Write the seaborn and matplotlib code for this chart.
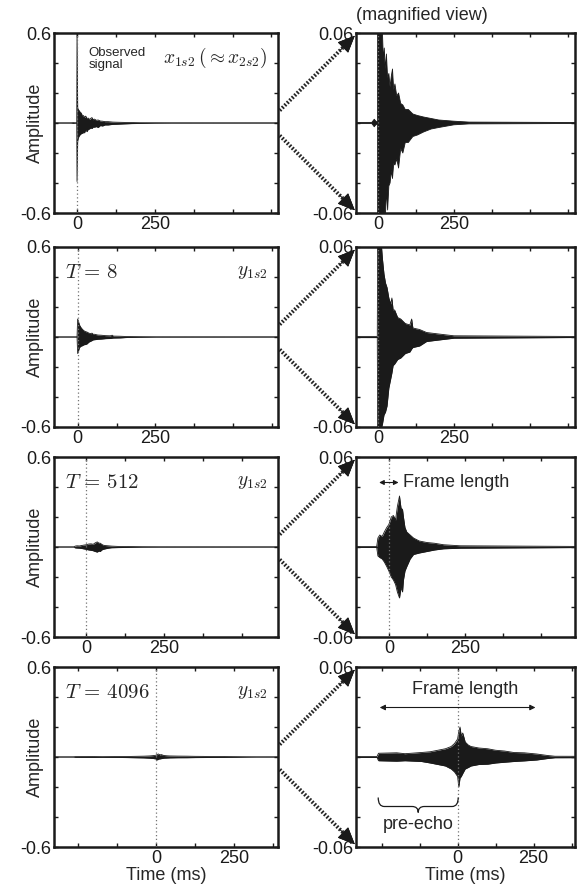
import matplotlib
matplotlib.use("Agg")
import numpy as np
import pandas as pd
import matplotlib.pyplot as plt
import seaborn as sns
from matplotlib.path import Path
from matplotlib.patches import PathPatch
from matplotlib.lines import Line2D
from matplotlib.ticker import FixedLocator, FixedFormatter

# ---------------- data (envelopes) ----------------
# Row 1: observed signal x_1s2
x1_t = [-700, -20, -12, -8, -4, -1, 0, 2, 4, 6, 9, 12, 15, 18, 21, 24, 28, 32, 36, 40, 44, 48, 52,
        56, 62, 68, 75, 82, 90, 100, 115, 130, 150, 175, 200, 250, 300, 700]
x1_up = [0.0003, 0.0004, 0.0025, 0.0015, 0.0008, 0.001, 0.6, 0.10, 0.09, 0.085, 0.075, 0.07, 0.06,
         0.042, 0.05, 0.036, 0.046, 0.03, 0.033, 0.024, 0.031, 0.036, 0.022, 0.026, 0.018, 0.02,
         0.013, 0.012, 0.009, 0.009, 0.006, 0.005, 0.004, 0.003, 0.002, 0.0012, 0.0006, 0.0003]
x1_lo = [-0.0003, -0.0004, -0.0025, -0.0015, -0.0008, -0.001, -0.39, -0.12, -0.10, -0.09, -0.08,
         -0.075, -0.066, -0.07, -0.058, -0.066, -0.045, -0.058, -0.042, -0.04, -0.032, -0.037,
         -0.027, -0.028, -0.024, -0.03, -0.017, -0.02, -0.013, -0.013, -0.009, -0.008, -0.006,
         -0.004, -0.003, -0.0012, -0.0006, -0.0003]

# Row 2: y_1s2, T = 8
y8_t = [-700, -2, 0, 3, 6, 10, 15, 20, 25, 30, 36, 42, 46, 50, 55, 65, 75, 90, 105, 111, 115,
        137, 160, 200, 250, 700]
y8_up = [0.0003, 0.0004, 0.12, 0.10, 0.08, 0.065, 0.052, 0.042, 0.036, 0.033, 0.026, 0.022, 0.026,
         0.018, 0.018, 0.013, 0.012, 0.009, 0.008, 0.012, 0.006, 0.005, 0.003, 0.002, 0.0008, 0.0003]
y8_lo = [-0.0003, -0.0004, -0.11, -0.09, -0.07, -0.062, -0.058, -0.052, -0.05, -0.046, -0.034,
         -0.028, -0.024, -0.019, -0.018, -0.015, -0.014, -0.011, -0.01, -0.008, -0.007, -0.006,
         -0.003, -0.002, -0.0008, -0.0003]

# Row 3: y_1s2, T = 512
y512_t = [-700, -40, -36, -30, -22, -15, -7, 0, 8, 15, 22, 28, 35, 40, 45, 48, 53, 59, 70, 81,
          100, 125, 150, 180, 235, 700]
y512_up = [0.0003, 0.0003, 0.006, 0.008, 0.007, 0.01, 0.013, 0.015, 0.02, 0.021, 0.018, 0.027,
           0.034, 0.026, 0.025, 0.02, 0.013, 0.01, 0.008, 0.006, 0.004, 0.003, 0.0025, 0.0015,
           0.0008, 0.0003]
y512_lo = [-0.0003, -0.0003, -0.006, -0.007, -0.008, -0.01, -0.013, -0.016, -0.02, -0.022,
           -0.025, -0.03, -0.034, -0.027, -0.03, -0.022, -0.016, -0.013, -0.008, -0.005, -0.004,
           -0.003, -0.002, -0.0012, -0.0008, -0.0003]

# Row 4: y_1s2, T = 4096
y4096_t = [-700, -265, -260, -200, -173, -119, -90, -65, -40, -21, -10, 0, 4, 8, 12, 17, 25, 35,
           44, 70, 99, 125, 154, 185, 219, 260, 296, 320, 700]
y4096_up = [0.0003, 0.0003, 0.0025, 0.0028, 0.0022, 0.003, 0.0035, 0.0045, 0.0055, 0.007, 0.009,
            0.012, 0.017, 0.02, 0.014, 0.016, 0.01, 0.008, 0.007, 0.006, 0.0055, 0.0045, 0.004,
            0.003, 0.0028, 0.002, 0.001, 0.0005, 0.0003]
y4096_lo = [-0.0003, -0.0003, -0.0025, -0.0028, -0.0025, -0.003, -0.004, -0.005, -0.006, -0.008,
            -0.01, -0.013, -0.02, -0.014, -0.013, -0.011, -0.008, -0.007, -0.006, -0.005,
            -0.0048, -0.004, -0.0035, -0.003, -0.0026, -0.002, -0.001, -0.0005, -0.0003]

signals = [(x1_t, x1_up, x1_lo), (y8_t, y8_up, y8_lo),
           (y512_t, y512_up, y512_lo), (y4096_t, y4096_up, y4096_lo)]

left_labels = [r"$x_{1s2}\,(\approx x_{2s2})$", r"$y_{1s2}$", r"$y_{1s2}$", r"$y_{1s2}$"]
t_labels = [None, r"$T\,=\,8$", r"$T\,=\,512$", r"$T\,=\,4096$"]
frame_len_ms = [None, None, 64, 512]

x_ticks = [-375, -250, -125, 0, 125, 250, 375, 500, 625]
x_tick_labels = ["", "", "", "0", "", "250", "", "", ""]
yl_ticks = [-0.6, -0.4, -0.2, 0.0, 0.2, 0.4, 0.6]
yl_tick_labels = ["-0.6", "", "", "", "", "", "0.6"]
yr_ticks = [-0.06, -0.04, -0.02, 0.0, 0.02, 0.04, 0.06]
yr_tick_labels = ["-0.06", "", "", "", "", "", "0.06"]

# ---------------- style ----------------
sns.set_theme(style="ticks")
plt.rcParams["font.family"] = ["Liberation Sans", "DejaVu Sans"]
plt.rcParams["mathtext.fontset"] = "cm"
plt.rcParams["axes.unicode_minus"] = False
FS = 13

fig = plt.figure(figsize=(5.82, 8.88), dpi=100)

L_left, L_w = 54 / 582, 224 / 582
R_left, R_w = 356 / 582, 219 / 582
row_bottoms = [1 - 213 / 888, 1 - 427 / 888, 1 - 637 / 888, 1 - 847 / 888]
H = 180 / 888
xlim_left = [(-74, 646), (-76, 644), (-104, 616), (-328, 392)]
xlim_right = [(-72, 648), (-72, 648), (-108, 612), (-334, 386)]


def style_axis(ax, yt, ytl):
    for s in ax.spines.values():
        s.set_linewidth(1.8)
        s.set_color("k")
    ax.xaxis.set_major_locator(FixedLocator(x_ticks))
    ax.xaxis.set_major_formatter(FixedFormatter(x_tick_labels))
    ax.yaxis.set_major_locator(FixedLocator(yt))
    ax.yaxis.set_major_formatter(FixedFormatter(ytl))
    ax.tick_params(direction="in", length=3, width=1, top=True, right=True,
                   labelsize=FS, pad=2, colors="k")
    ax.set_xlabel("")
    ax.set_ylabel("")


def draw_signal(ax, t, up, lo):
    df = pd.DataFrame({"t": t, "up": up, "lo": lo})
    ax.fill_between(df["t"], df["lo"], df["up"], color="k", lw=0, zorder=2)
    sns.lineplot(data=df, x="t", y="up", ax=ax, color="k", lw=0.6, zorder=2)
    sns.lineplot(data=df, x="t", y="lo", ax=ax, color="k", lw=0.6, zorder=2)
    ax.axvline(0, color="0.45", lw=0.9, ls=(0, (1, 2)), zorder=3)


for r in range(4):
    t, up, lo = signals[r]
    axL = fig.add_axes([L_left, row_bottoms[r], L_w, H])
    axR = fig.add_axes([R_left, row_bottoms[r], R_w, H])
    for ax in (axL, axR):
        draw_signal(ax, t, up, lo)
    axL.set_xlim(*xlim_left[r]); axL.set_ylim(-0.6, 0.6)
    axR.set_xlim(*xlim_right[r]); axR.set_ylim(-0.06, 0.06)
    style_axis(axL, yl_ticks, yl_tick_labels)
    style_axis(axR, yr_ticks, yr_tick_labels)
    axL.set_ylabel("Amplitude", fontsize=FS)
    axL.yaxis.set_label_coords(-0.045, 0.5)

    # annotations in left panel
    axL.text(0.955, 0.86, left_labels[r], transform=axL.transAxes, ha="right",
             va="center", fontsize=14)
    if t_labels[r] is None:
        axL.text(0.155, 0.92, "Observed\nsignal", transform=axL.transAxes, ha="left",
                 va="top", fontsize=9.5, linespacing=1.0)
    else:
        axL.text(0.05, 0.86, t_labels[r], transform=axL.transAxes, ha="left",
                 va="center", fontsize=15)

    if r == 3:
        axL.set_xlabel("Time (ms)", fontsize=FS, labelpad=0)
        axR.set_xlabel("Time (ms)", fontsize=FS, labelpad=0)

    # dotted "magnify" connectors with arrowheads
    x0 = L_left + L_w
    for sgn in (1, -1):
        y0 = row_bottoms[r] + H * (0.5 + sgn * 0.06)
        x1 = R_left - 0.002
        y1 = row_bottoms[r] + (H if sgn > 0 else 0) - sgn * 0.003
        fx, fy = x1 - x0, y1 - y0
        fig.add_artist(Line2D([x0 + 0.003, x0 + 0.88 * fx],
                              [y0 + 0.003 * fy / fx, y0 + 0.88 * fy],
                              transform=fig.transFigure, color="0.15", lw=2.8,
                              ls=(0, (0.45, 0.45))))
        fig.add_artist(plt.annotate("", xy=(x1, y1), xycoords="figure fraction",
                                    xytext=(x0 + 0.8 * fx, y0 + 0.8 * fy),
                                    textcoords="figure fraction",
                                    arrowprops=dict(arrowstyle="-|>,head_length=0.8,head_width=0.35",
                                                    color="k", lw=0.5,
                                                    mutation_scale=14, shrinkA=0,
                                                    shrinkB=0)))

    # frame length arrows
    fl = frame_len_ms[r]
    if fl is not None:
        if r == 2:
            axR.annotate("", xy=(fl / 2, 0.043), xytext=(-fl / 2, 0.043),
                         arrowprops=dict(arrowstyle="<|-|>", color="k", lw=0.8,
                                         mutation_scale=7, shrinkA=0, shrinkB=0))
            axR.text(fl / 2 + 14, 0.043, "Frame length", ha="left", va="center", fontsize=FS)
        else:
            axR.annotate("", xy=(fl / 2, 0.033), xytext=(-fl / 2, 0.033),
                         arrowprops=dict(arrowstyle="<|-|>", color="k", lw=0.8,
                                         mutation_scale=8, shrinkA=0, shrinkB=0))
            axR.text(25, 0.045, "Frame length", ha="center", va="center", fontsize=FS)
            # pre-echo brace
            xa, xb = -fl / 2 - 5, 2
            xm = (xa + xb) / 2
            ytop, ymid, ytip = -0.027, -0.033, -0.037
            verts = [(xa, ytop), (xa, ymid), (xa + 20, ymid),
                     (xm - 20, ymid), (xm - 20, ymid), (xm, ymid),
                     (xm, ytip),
                     (xm, ymid), (xm + 20, ymid),
                     (xb - 20, ymid), (xb - 20, ymid), (xb, ymid), (xb, ytop)]
            codes = [Path.MOVETO, Path.CURVE3, Path.CURVE3,
                     Path.LINETO, Path.LINETO, Path.CURVE3, Path.CURVE3,
                     Path.CURVE3, Path.CURVE3,
                     Path.LINETO, Path.LINETO, Path.CURVE3, Path.CURVE3]
            axR.add_patch(PathPatch(Path(verts, codes), fill=False, lw=0.9, color="k",
                                    zorder=4))
            axR.text(xm, -0.045, "pre-echo", ha="center", va="center", fontsize=FS)

fig.text(0.725, 0.983, "(magnified view)", ha="center", va="center", fontsize=FS)

fig.savefig("out.png", dpi=100)
